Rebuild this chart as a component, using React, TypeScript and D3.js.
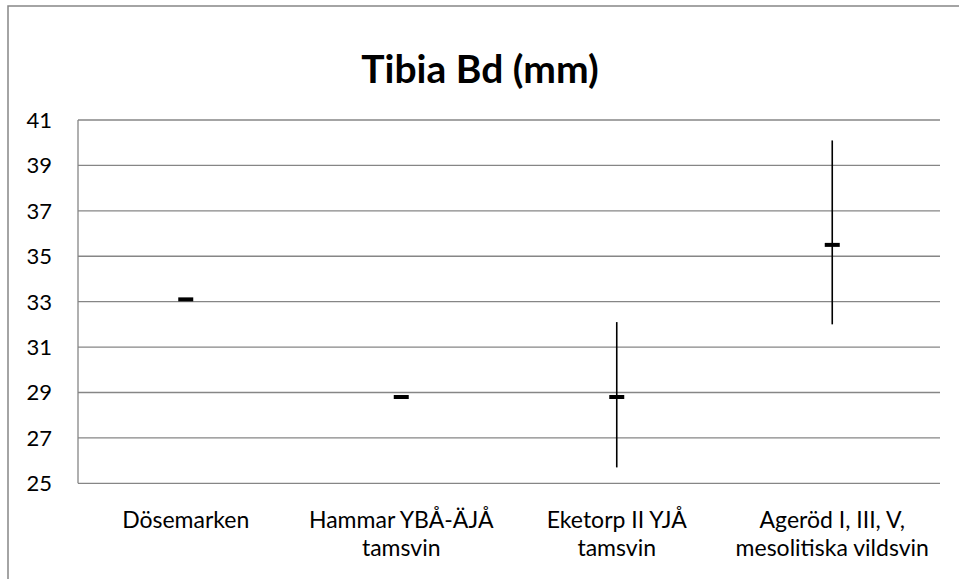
import React from "react";
import * as d3 from "d3";

const categories: string[][] = [
  ["Dösemarken"],
  ["Hammar YBÅ-ÄJÅ", "tamsvin"],
  ["Eketorp II YJÅ", "tamsvin"],
  ["Ageröd I, III, V,", "mesolitiska vildsvin"],
];
const highValues: (number | null)[] = [null, null, 32.1, 40.1];
const lowValues: (number | null)[] = [null, null, 25.7, 32.0];
const meanValues: number[] = [33.1, 28.8, 28.8, 35.5];
const yTicks: number[] = [25, 27, 29, 31, 33, 35, 37, 39, 41];
const title = "Tibia Bd (mm)";

const W = 959;
const H = 579;
const font = "Lato, 'Open Sans', sans-serif";

export default function App() {
  const keys = categories.map((c) => c.join(" "));
  const x = d3.scaleBand<string>().domain(keys).range([78, 940]);
  const y = d3.scaleLinear().domain([25, 41]).range([483.3, 120]);
  const grid = "#868686";
  return (
    <svg
      width={W}
      height={H}
      style={{ position: "absolute", left: 0, top: 0, background: "#fff" }}
    >
      <rect x={8} y={6} width={W} height={H} fill="#fff" stroke={grid} strokeWidth={1.5} />
      <text
        x={480}
        y={83}
        textAnchor="middle"
        fontFamily={font}
        fontWeight="bold"
        fontSize={39}
        fill="#000"
      >
        {title}
      </text>
      {yTicks.map((t) => (
        <g key={t}>
          <line x1={78} x2={940} y1={y(t)} y2={y(t)} stroke={grid} strokeWidth={1.3} />
          <text
            x={52}
            y={y(t)}
            dy="0.36em"
            textAnchor="end"
            fontFamily={font}
            fontSize={22}
            fill="#000"
          >
            {t}
          </text>
        </g>
      ))}
      <line x1={78} x2={78} y1={y(41)} y2={y(25)} stroke={grid} strokeWidth={1.3} />
      {keys.map((k, i) => {
        const cx = (x(k) as number) + x.bandwidth() / 2;
        const hi = highValues[i];
        const lo = lowValues[i];
        return (
          <g key={k}>
            {hi !== null && lo !== null && (
              <line x1={cx} x2={cx} y1={y(hi)} y2={y(lo)} stroke="#000" strokeWidth={1.6} />
            )}
            <line
              x1={cx - 7.5}
              x2={cx + 7.5}
              y1={y(meanValues[i])}
              y2={y(meanValues[i])}
              stroke="#000"
              strokeWidth={4}
            />
            {categories[i].map((line, j) => (
              <text
                key={j}
                x={cx}
                y={528 + j * 28}
                textAnchor="middle"
                fontFamily={font}
                fontSize={23}
                fill="#000"
              >
                {line}
              </text>
            ))}
          </g>
        );
      })}
    </svg>
  );
}
